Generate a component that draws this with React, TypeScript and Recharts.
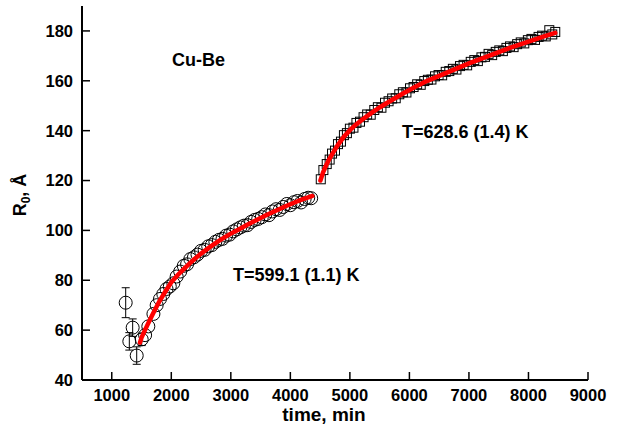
import {
  ComposedChart,
  Scatter,
  XAxis,
  YAxis,
  ErrorBar,
} from "recharts";

// circles: 599.1 K run (time, R0, error)
const circleTime = [
  1234, 1295, 1351, 1419, 1503, 1560, 1614, 1700, 1754, 1810, 1866, 1920, 1975,
  2034, 2090, 2150, 2210, 2265, 2320, 2380, 2440, 2500, 2560, 2620, 2680, 2740,
  2800, 2860, 2920, 2980, 3040, 3100, 3160, 3220, 3280, 3340, 3400, 3460, 3520,
  3580, 3640, 3700, 3760, 3820, 3880, 3940, 4000, 4060, 4120, 4180, 4240, 4300,
  4350,
];
const circleR = [
  71, 55.5, 61, 49.8, 56.3, 58, 61.5, 66.5, 70, 72.5, 74.5, 76.5, 77.5, 78.8,
  81.5, 83.5, 85.8, 86.4, 88.5, 89.2, 90.3, 91.8, 92.2, 93.6, 94.1, 95.4, 96.2,
  96.6, 97.9, 98.3, 99.6, 100.4, 101.2, 101.9, 102.1, 103.4, 104.2, 104.6, 105.3,
  106.4, 106.1, 107.6, 108.5, 108.2, 109.4, 110.6, 110.1, 111.3, 111.8, 111.2,
  112.6, 113.1, 112.9,
];
const circleErr = [6, 3.5, 3.5, 3.5, 2.5];

// squares: 628.6 K run
const squareTime = [
  4511, 4555, 4611, 4660, 4700, 4750, 4800, 4850, 4900, 4950, 5000, 5060, 5110,
  5170, 5230, 5290, 5350, 5410, 5470, 5530, 5590, 5650, 5710, 5770, 5830, 5890,
  5950, 6010, 6070, 6130, 6190, 6250, 6310, 6370, 6430, 6490, 6550, 6610, 6670,
  6730, 6790, 6850, 6910, 6970, 7030, 7090, 7150, 7210, 7270, 7330, 7390, 7450,
  7510, 7570, 7630, 7690, 7750, 7810, 7870, 7930, 7990, 8050, 8110, 8170, 8230,
  8290, 8350, 8400, 8450,
];
const squareR = [
  120.5, 124.2, 126.6, 128.4, 130.8, 132.0, 134.6, 135.6, 138.2, 139.0, 140.8,
  141.2, 143.1, 143.6, 145.4, 146.5, 146.4, 148.3, 149.4, 149.2, 151.2, 151.8,
  152.9, 153.0, 154.6, 155.4, 155.3, 157.0, 157.5, 158.6, 158.4, 159.9, 160.4,
  160.5, 161.8, 162.3, 162.2, 163.6, 163.9, 164.8, 164.5, 165.9, 166.4, 166.2,
  167.6, 168.3, 167.9, 169.4, 169.6, 170.8, 170.3, 171.6, 172.2, 171.9, 173.2,
  173.8, 173.5, 174.7, 175.4, 175.0, 176.3, 176.8, 176.4, 177.6, 178.1, 177.8,
  180.3, 178.6, 179.6,
];

// fitted curves
const fit1Time = [
  1474, 1500, 1550, 1600, 1650, 1700, 1750, 1800, 1900, 2000, 2100, 2200, 2300,
  2400, 2500, 2600, 2700, 2800, 2900, 3000, 3100, 3200, 3300, 3400, 3500, 3600,
  3700, 3800, 3900, 4000, 4100, 4200, 4300, 4370,
];
const fit1R = [
  55, 57, 59.6, 62.1, 64.6, 67, 69.3, 71.5, 75.5, 79.2, 81.9, 84.3, 86.6, 88.7,
  90.7, 92.5, 94.2, 95.8, 97.3, 98.7, 100, 101.3, 102.6, 103.8, 105, 106.2, 107.3,
  108.4, 109.5, 110.5, 111.5, 112.4, 113.2, 113.8,
];
const fit2Time = [
  4505, 4550, 4600, 4650, 4700, 4800, 4900, 5000, 5100, 5200, 5300, 5400, 5500,
  5600, 5700, 5800, 5900, 6000, 6100, 6200, 6300, 6400, 6500, 6600, 6700, 6800,
  6900, 7000, 7100, 7200, 7300, 7400, 7500, 7600, 7700, 7800, 7900, 8000, 8100,
  8200, 8300, 8450,
];
const fit2R = [
  120, 123.3, 126, 128.4, 130.5, 134.3, 137.6, 140.2, 142.4, 144.3, 146, 147.7,
  149.3, 150.8, 152.2, 153.6, 155, 156.3, 157.6, 158.8, 160, 161, 162, 163, 164,
  165, 166, 167, 167.9, 168.8, 169.7, 170.6, 171.5, 172.4, 173.3, 174.1, 174.9,
  175.7, 176.5, 177.3, 178.1, 179.2,
];

const xMajor = [1000, 2000, 3000, 4000, 5000, 6000, 7000, 8000, 9000];
const xMinor = [1500, 2500, 3500, 4500, 5500, 6500, 7500, 8500];
const yMajor = [40, 60, 80, 100, 120, 140, 160, 180];
const yMinor = [50, 70, 90, 110, 130, 150, 170];

const circles = circleTime.map((x, i) => ({ x, y: circleR[i], err: circleErr[i] }));
const squares = squareTime.map((x, i) => ({ x, y: squareR[i] }));
const fit1 = fit1Time.map((x, i) => ({ x, y: fit1R[i] }));
const fit2 = fit2Time.map((x, i) => ({ x, y: fit2R[i] }));

const FONT = "'Liberation Sans', Arial, sans-serif";
const tickStyle = { fontSize: 16.5, fontWeight: 700, fill: "#000", fontFamily: FONT };
const axisLine = { stroke: "#000", strokeWidth: 2 };
const tickLine = { stroke: "#000", strokeWidth: 1.5 };
const X_DOMAIN = [500, 9000];
const Y_DOMAIN = [40, 190];
const fitLine = { stroke: "#ff0000", strokeWidth: 4.5, strokeLinecap: "round" as const };

const CircleMark = (p: any) => (
  <circle cx={p.cx} cy={p.cy} r={6.5} fill="none" stroke="#000" strokeWidth={1} />
);
const SquareMark = (p: any) => (
  <rect x={p.cx - 4.5} y={p.cy - 4.5} width={9} height={9} fill="none" stroke="#000" strokeWidth={1} />
);
const NoMark = () => <g />;

export default function App() {
  return (
    <div style={{ position: "absolute", left: 0, top: 0, background: "#fff" }}>
      <ComposedChart
        width={622}
        height={437}
        margin={{ top: 6, right: 34, bottom: 0, left: 0 }}
      >
        {/* minor / mirror axes first so they sit on the plot edges */}
        <XAxis
          xAxisId="minor"
          type="number"
          dataKey="x"
          domain={X_DOMAIN}
          allowDataOverflow
          ticks={xMinor}
          height={0}
          tick={false}
          tickSize={-4}
          axisLine={false}
          tickLine={tickLine}
        />
        <XAxis
          dataKey="x"
          type="number"
          domain={X_DOMAIN}
          allowDataOverflow
          ticks={xMajor}
          height={57}
          tickSize={-8}
          tickMargin={17}
          tick={tickStyle}
          axisLine={axisLine}
          tickLine={tickLine}
        />
        <XAxis
          xAxisId="top"
          orientation="top"
          type="number"
          dataKey="x"
          domain={X_DOMAIN}
          allowDataOverflow
          ticks={[...xMajor, ...xMinor]}
          height={0}
          tick={false}
          tickSize={-7}
          axisLine={axisLine}
          tickLine={tickLine}
        />
        <YAxis
          yAxisId="minor"
          type="number"
          dataKey="y"
          domain={Y_DOMAIN}
          allowDataOverflow
          ticks={yMinor}
          width={0}
          tick={false}
          tickSize={-4}
          axisLine={false}
          tickLine={tickLine}
        />
        <YAxis
          dataKey="y"
          type="number"
          domain={Y_DOMAIN}
          allowDataOverflow
          ticks={yMajor}
          width={82}
          tickSize={-8}
          tickMargin={17}
          tick={tickStyle}
          axisLine={axisLine}
          tickLine={tickLine}
        />
        <YAxis
          yAxisId="right"
          orientation="right"
          type="number"
          dataKey="y"
          domain={Y_DOMAIN}
          allowDataOverflow
          ticks={yMajor}
          width={0}
          tick={false}
          tickSize={-8}
          axisLine={axisLine}
          tickLine={tickLine}
        />
        <YAxis
          yAxisId="rightMinor"
          orientation="right"
          type="number"
          dataKey="y"
          domain={Y_DOMAIN}
          allowDataOverflow
          ticks={yMinor}
          width={0}
          tick={false}
          tickSize={-4}
          axisLine={false}
          tickLine={tickLine}
        />

        <Scatter data={circles} dataKey="y" shape={CircleMark} isAnimationActive={false}>
          <ErrorBar dataKey="err" direction="y" width={4} stroke="#000" strokeWidth={1} />
        </Scatter>
        <Scatter data={squares} dataKey="y" shape={SquareMark} isAnimationActive={false} />
        <Scatter
          data={fit1}
          dataKey="y"
          shape={NoMark}
          line={fitLine}
          lineType="joint"
          isAnimationActive={false}
        />
        <Scatter
          data={fit2}
          dataKey="y"
          shape={NoMark}
          line={fitLine}
          lineType="joint"
          isAnimationActive={false}
        />

        <g fontFamily={FONT} fontWeight={700} fill="#000">
          <text x={172} y={66} fontSize={18}>Cu-Be</text>
          <text x={402} y={138} fontSize={18}>T=628.6 (1.4) K</text>
          <text x={233} y={281} fontSize={18}>T=599.1 (1.1) K</text>
          <text x={324} y={421} fontSize={19} textAnchor="middle">time, min</text>
          <text x={26} y={195} fontSize={18} textAnchor="middle" transform="rotate(-90 26 195)">
            R<tspan fontSize={12} dy={4}>0</tspan>
            <tspan dy={-4}>, Å</tspan>
          </text>
        </g>
      </ComposedChart>
    </div>
  );
}
